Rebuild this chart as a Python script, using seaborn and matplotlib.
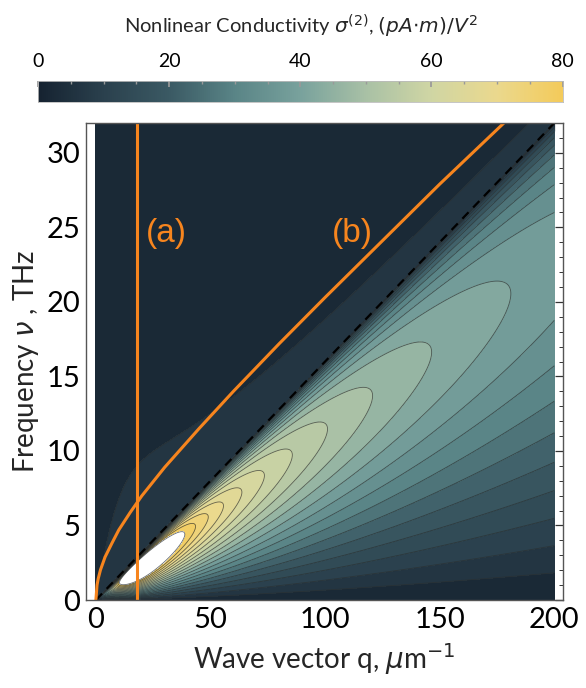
import numpy as np
import pandas as pd
import matplotlib
matplotlib.use("Agg")
import matplotlib.pyplot as plt
from matplotlib.colors import LinearSegmentedColormap
import seaborn as sns

# ---------------- data ----------------
# colour scale
cbar_ticks = [0, 20, 40, 60, 80]
level_step = 4
# dashed line nu = k q (light cone)
dash_q = [0, 200]
dash_nu = [0, 32]
# line (a): fixed wave vector
line_a_q = 18
# curve (b): plasmon dispersion
curve_b_q = [0, 0.5, 1, 2, 4, 7, 10, 15, 20, 30, 45, 60, 80, 100, 125, 150, 178]
curve_b_nu = [0, 1.0, 1.42, 2.02, 2.88, 3.81, 4.70, 5.88, 6.98, 8.90, 11.5, 14.0, 17.2, 20.3, 24.1, 27.9, 32.0]
# field model parameters
k_cone = 0.16          # slope of the dashed line (THz per um^-1)
peak_amp = 415.0       # amplitude of the peak ridge
peak_pow = 0.45        # decay of the ridge with q
q_cut = 11.5           # low-q roll-off of the ridge
s_pow = 3.0            # flatness of the ridge across the rays
p_exp = 0.6            # drop towards the dashed line
tail_max = 7.0         # value just above the dashed line
tail_w0, tail_q0, tail_n = 8.0, 17.0, 1.8

# colour map samples
cmap_colors = ["#162331", "#2b414e", "#3b5a64", "#5a8587", "#79a29d",
               "#a9c1a6", "#d0d6a4", "#ebd98e", "#f4cb5b"]

# ---------------- build the field ----------------
q = np.linspace(0.01, 200, 900)
nu = np.linspace(0.0, 32, 700)
Q, NU = np.meshgrid(q, nu)
S = NU / (k_cone * Q)
ss = np.linspace(0, 1, 2001)
gmax = np.max(ss * (1 - ss**s_pow) ** p_exp)
G = np.where(S < 1, S * np.clip(1 - S**s_pow, 0, None) ** p_exp, 0.0) / gmax
ridge = peak_amp * Q**-peak_pow * (1 - np.exp(-(Q / q_cut) ** 2))
W = tail_w0 / (1 + (Q / tail_q0) ** tail_n)
tail = np.where(S >= 1, tail_max * np.exp(-(S - 1) / W), 0.0)
F = ridge * G + tail

# ---------------- plot ----------------
sns.set_theme(style="white")
plt.rcParams["font.family"] = ["Lato", "DejaVu Sans"]
plt.rcParams["mathtext.fontset"] = "dejavusans"

fig = plt.figure(figsize=(5.86, 6.88), dpi=100)
ax = fig.add_axes([0.1468, 0.1279, 0.814, 0.6933])
cax = fig.add_axes([0.065, 0.852, 0.895, 0.030])

cmap = LinearSegmentedColormap.from_list("sig", cmap_colors)
cmap.set_over("white")
levels = np.arange(0, 80 + level_step, level_step)
cf = ax.contourf(Q, NU, F, levels=levels, cmap=cmap, vmin=0, vmax=80, extend="max")
ax.contour(Q, NU, F, levels=levels[1:], colors="#2a2f30", linewidths=0.6, alpha=0.7)

orange = "#f7851e"
sns.lineplot(x=dash_q, y=dash_nu, ax=ax, color="black", lw=1.6, linestyle=(0, (4, 3)))
sns.lineplot(x=[line_a_q, line_a_q], y=[0, 32], ax=ax, color=orange, lw=2.2,
             estimator=None, sort=False)
sns.lineplot(x=curve_b_q, y=curve_b_nu, ax=ax, color=orange, lw=2.2,
             estimator=None, sort=False)
ax.text(30.8, 24.6, "(a)", color=orange, fontsize=24, ha="center", va="center",
        family="Liberation Sans")
ax.text(112, 24.6, "(b)", color=orange, fontsize=24, ha="center", va="center",
        family="Liberation Sans")

ax.set_xlim(-4.3, 203.8)
ax.set_ylim(0, 32)
ax.set_xticks([0, 50, 100, 150, 200])
ax.set_yticks([0, 5, 10, 15, 20, 25, 30])
ax.set_xticks(np.arange(0, 201, 10), minor=True)
ax.set_yticks(np.arange(0, 33, 1), minor=True)
ax.tick_params(which="both", direction="in", top=True, right=True, colors="#333333",
               labelcolor="black", labelsize=21)
ax.tick_params(which="major", length=6, width=0.9)
ax.tick_params(which="minor", length=3, width=0.7)
ax.tick_params(axis="x", pad=5)
ax.tick_params(axis="y", pad=4)
for sp in ax.spines.values():
    sp.set_color("#555555")
    sp.set_linewidth(1.0)
ax.set_facecolor("white")
ax.set_xlabel(r"Wave vector q, $\mu$m$^{-1}$", fontsize=20, labelpad=6)
ax.set_ylabel(r"Frequency $\nu$ , THz", fontsize=20, labelpad=4)

grad = np.linspace(0, 80, 512).reshape(1, -1)
cax.imshow(grad, aspect="auto", cmap=cmap, vmin=0, vmax=80, extent=[0, 80, 0, 1])
cax.set_xlim(0, 80)
cax.set_yticks([])
cax.xaxis.set_ticks_position("top")
cax.xaxis.set_label_position("top")
cax.set_xticks(cbar_ticks)
cax.set_xticks(np.arange(0, 81, 5), minor=True)
cax.tick_params(which="both", direction="in", colors="#999999", labelcolor="black",
                labelsize=14, pad=8)
cax.tick_params(which="major", length=4)
cax.tick_params(which="minor", length=2.5)
for sp in cax.spines.values():
    sp.set_color("#bbbbbb")
    sp.set_linewidth(0.6)
cax.set_xlabel(r"Nonlinear Conductivity $\sigma^{(2)}$, $(pA{\cdot}m)/V^2$",
               fontsize=14.5, labelpad=14)

fig.savefig("out.png", dpi=100)
